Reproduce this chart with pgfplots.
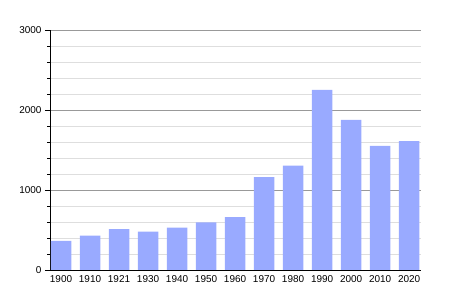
\documentclass[border=0pt]{standalone}
\usepackage{fontspec}
\setmainfont{Liberation Sans}
\usepackage{pgfplots}
\pgfplotsset{compat=1.18}
\definecolor{barblue}{RGB}{153,170,255}
\begin{document}
\begin{tikzpicture}
\path[use as bounding box] (-50bp,-30bp) rectangle (400bp,270bp);
\begin{axis}[
  at={(0,0)}, anchor=south west,
  scale only axis, width=371bp, height=240bp,
  xmin=-0.38, xmax=12.41, ymin=0, ymax=3000,
  axis x line*=bottom, axis y line*=left,
  axis line style={black, line width=0.8pt},
  xtick=data,
  xticklabels={1900,1910,1921,1930,1940,1950,1960,1970,1980,1990,2000,2010,2020},
  x tick style={draw=none},
  xticklabel style={yshift=3bp},
  ytick={0,1000,2000,3000}, minor y tick num=4,
  ymajorgrids, yminorgrids,
  major grid style={color=black!40, line width=0.6pt},
  minor grid style={color=black!13, line width=0.6pt},
  tick align=outside, major tick length=5bp, minor tick length=2.5bp,
  y tick style={black, line width=0.6pt},
  ticklabel style={font=\fontsize{10}{12}\selectfont},
  /pgf/number format/assume math mode=true,
  /pgf/number format/1000 sep={},
  ybar, bar width=20.5bp,
]
\addplot[fill=barblue, draw=none] coordinates {
(0,365) (1,430) (2,512) (3,479) (4,529) (5,596) (6,662)
(7,1162) (8,1305) (9,2250) (10,1875) (11,1550) (12,1612)
};
\end{axis}
\end{tikzpicture}
\end{document}
